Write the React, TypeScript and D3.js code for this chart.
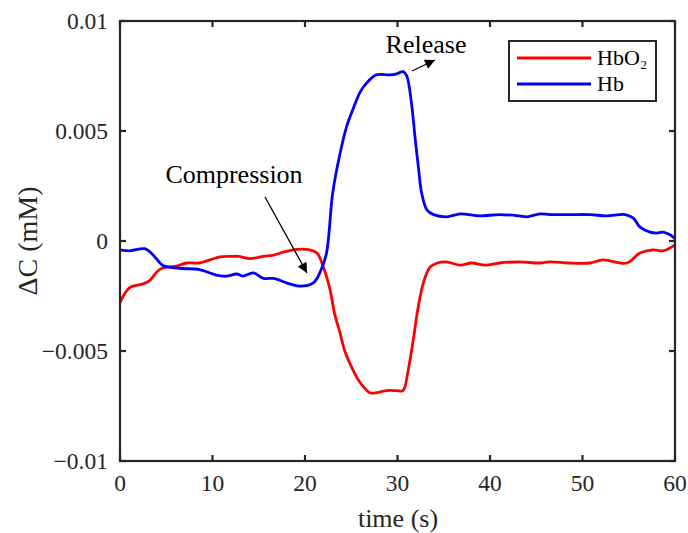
import React from "react";
import * as d3 from "d3";

const hbT = [0, 1, 2.7, 3.5, 4.6, 5.5, 6.8, 8.6, 10.4, 11.5, 12.6, 13.3, 14.4, 15.5, 16.6, 18, 19.5, 20.9, 21.6, 22.3, 23.0, 23.8, 24.5, 25.2, 26, 26.7, 27.7, 29.2, 29.9, 30.6, 31, 31.5, 31.9, 32.3, 32.6, 33.2, 33.9, 35.3, 36.8, 38.9, 41, 43.2, 44, 45.4, 46.5, 48.6, 50.8, 52.6, 54.6, 55.5, 56.2, 57.3, 58, 58.7, 59.5, 60];
const hbV = [-0.0004, -0.00045, -0.00035, -0.0006, -0.0011, -0.0012, -0.00125, -0.0013, -0.00155, -0.0016, -0.0015, -0.0016, -0.00145, -0.0017, -0.0017, -0.0019, -0.00205, -0.0019, -0.00145, -0.0006, 0.0022, 0.004, 0.0052, 0.006, 0.0068, 0.0072, 0.00755, 0.00755, 0.0076, 0.0077, 0.0075, 0.0063, 0.0047, 0.0032, 0.0022, 0.0014, 0.0012, 0.0011, 0.00123, 0.00114, 0.0012, 0.00114, 0.0011, 0.00123, 0.0012, 0.0012, 0.0012, 0.00114, 0.0012, 0.00104, 0.00064, 0.0004, 0.00036, 0.0004, 0.00027, 0.0001];

const hbo2T = [0, 0.5, 1.1, 2.5, 3.2, 4, 4.6, 6.1, 7.2, 8.6, 9.7, 10.8, 11.9, 12.8, 14, 15.5, 16.6, 17.7, 19.1, 20.5, 21.3, 22, 22.7, 23.2, 23.8, 24.3, 25, 25.9, 27, 27.6, 28.8, 29.9, 30.6, 31.1, 31.7, 32.2, 32.8, 33.5, 34.3, 35.3, 36.8, 38, 39.5, 41, 43.2, 45.4, 46.5, 48.5, 50.8, 52.2, 54.8, 56.2, 57.6, 58.7, 60];
const hbo2V = [-0.0028, -0.0024, -0.0021, -0.00195, -0.0018, -0.0014, -0.00123, -0.00114, -0.001, -0.001, -0.00086, -0.00072, -0.0007, -0.0007, -0.0008, -0.0007, -0.00064, -0.0005, -0.00038, -0.0004, -0.00055, -0.0012, -0.0022, -0.0033, -0.0042, -0.005, -0.0057, -0.0064, -0.0069, -0.0069, -0.0068, -0.0068, -0.0068, -0.006, -0.0045, -0.0031, -0.0019, -0.0012, -0.001, -0.00095, -0.0011, -0.001, -0.0011, -0.001, -0.00095, -0.001, -0.00095, -0.001, -0.001, -0.00086, -0.001, -0.00055, -0.0004, -0.00045, -0.00018];

const xTicks = [0, 10, 20, 30, 40, 50, 60];
const yTicks = [-0.01, -0.005, 0, 0.005, 0.01];
const yTickLabels = ["\u22120.01", "\u22120.005", "0", "0.005", "0.01"];
const seriesNames = ["HbO\u2082", "Hb"];
const seriesColors = ["#ff0000", "#0000ff"];

const W = 688, H = 533;
const L = 120, R = 675, T = 21, B = 461;
const FONT = "'Liberation Serif', 'Times New Roman', serif";
const AX = "#262626";

export default function App() {
  const x = d3.scaleLinear().domain([0, 60]).range([L, R]);
  const y = d3.scaleLinear().domain([-0.01, 0.01]).range([B, T]);
  const line = d3.line<[number, number]>().x(d => x(d[0])).y(d => y(d[1])).curve(d3.curveCatmullRom.alpha(0.5));
  const hbo2 = line(hbo2T.map((t, i) => [t, hbo2V[i]] as [number, number]));
  const hb = line(hbT.map((t, i) => [t, hbV[i]] as [number, number]));
  const tick = 6;
  return (
    <svg width={W} height={H} style={{ position: "absolute", left: 0, top: 0, background: "#fff" }} fontFamily={FONT}>
      <defs>
        <marker id="ah" viewBox="0 0 10 10" refX="10" refY="5" markerWidth="12" markerHeight="10" markerUnits="userSpaceOnUse" orient="auto">
          <path d="M0,0 L10,5 L0,10 z" fill="#000" />
        </marker>
        <clipPath id="pc"><rect x={L} y={T} width={R - L} height={B - T} /></clipPath>
      </defs>
      <g clipPath="url(#pc)">
        <path d={hbo2 || ""} fill="none" stroke={seriesColors[0]} strokeWidth={2.8} />
        <path d={hb || ""} fill="none" stroke={seriesColors[1]} strokeWidth={2.8} />
      </g>
      <rect x={L} y={T} width={R - L} height={B - T} fill="none" stroke={AX} strokeWidth={2.2} />
      {xTicks.map(t => (
        <g key={t}>
          <line x1={x(t)} x2={x(t)} y1={B} y2={B - tick} stroke={AX} strokeWidth={2.2} />
          <line x1={x(t)} x2={x(t)} y1={T} y2={T + tick} stroke={AX} strokeWidth={2.2} />
          <text x={x(t)} y={491} textAnchor="middle" fontSize={23.5} fill={AX}>{t}</text>
        </g>
      ))}
      {yTicks.map((v, i) => (
        <g key={v}>
          <line x1={L} x2={L + tick} y1={y(v)} y2={y(v)} stroke={AX} strokeWidth={2.2} />
          <line x1={R} x2={R - tick} y1={y(v)} y2={y(v)} stroke={AX} strokeWidth={2.2} />
          <text x={108} y={y(v) + 8} textAnchor="end" fontSize={23.5} fill={AX}>{yTickLabels[i]}</text>
        </g>
      ))}
      <text x={398} y={527} textAnchor="middle" fontSize={26} fill={AX}>time (s)</text>
      <text transform={`translate(37,${(T + B) / 2}) rotate(-90)`} textAnchor="middle" fontSize={28} fill={AX}>{"\u0394C (mM)"}</text>
      <rect x={509} y={41} width={147} height={60} fill="#fff" stroke={AX} strokeWidth={2} />
      {seriesNames.map((n, i) => (
        <g key={n}>
          <line x1={517} x2={591} y1={58 + i * 26} y2={58 + i * 26} stroke={seriesColors[i]} strokeWidth={2.8} />
          <text x={597} y={65 + i * 26} fontSize={22} fill="#000">{n}</text>
        </g>
      ))}
      <text x={234} y={183} textAnchor="middle" fontSize={26} fill="#000">Compression</text>
      <line x1={265} y1={197} x2={307} y2={273} stroke="#000" strokeWidth={1.3} markerEnd="url(#ah)" />
      <text x={426} y={53} textAnchor="middle" fontSize={26} fill="#000">Release</text>
      <line x1={412} y1={71} x2={435} y2={60} stroke="#000" strokeWidth={1.3} markerEnd="url(#ah)" />
    </svg>
  );
}
